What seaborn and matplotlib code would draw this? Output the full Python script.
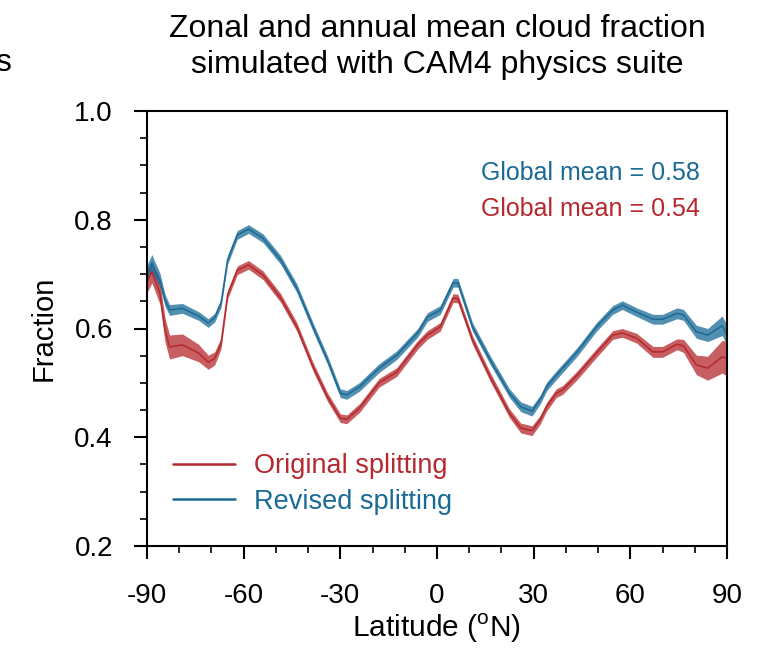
import numpy as np
import pandas as pd
import seaborn as sns
import matplotlib.pyplot as plt
from matplotlib.ticker import MultipleLocator

# Data
lat = [-90, -88.5, -86, -84.4, -83, -79, -74, -71, -69, -67, -65, -62, -58.5,
       -54, -48.5, -43.5, -38.5, -34, -30, -28, -24, -18, -12.5, -6, -3, 1,
       5, 6.5, 11, 16.5, 22.5, 26, 29.5, 32, 34, 37, 39, 43.5, 49.5, 54.5,
       57.5, 62, 67, 70, 74.5, 76.5, 80.5, 84, 88.5, 90]

revised_mean = [0.700, 0.720, 0.689, 0.652, 0.634, 0.637, 0.623, 0.610, 0.620,
                0.647, 0.726, 0.772, 0.783, 0.766, 0.726, 0.674, 0.603, 0.542,
                0.481, 0.478, 0.493, 0.527, 0.551, 0.592, 0.621, 0.634, 0.684,
                0.684, 0.603, 0.542, 0.481, 0.456, 0.448, 0.469, 0.493, 0.514,
                0.527, 0.557, 0.603, 0.634, 0.643, 0.630, 0.617, 0.617, 0.628,
                0.625, 0.594, 0.588, 0.605, 0.588]

revised_spread = [0.016, 0.016, 0.013, 0.011, 0.010, 0.009, 0.008, 0.008, 0.008,
                  0.008, 0.008, 0.008, 0.008, 0.008, 0.008, 0.008, 0.008, 0.008,
                  0.008, 0.008, 0.008, 0.008, 0.008, 0.008, 0.008, 0.008, 0.008,
                  0.008, 0.008, 0.008, 0.008, 0.009, 0.009, 0.008, 0.008, 0.008,
                  0.008, 0.008, 0.008, 0.008, 0.008, 0.008, 0.009, 0.009, 0.010,
                  0.010, 0.012, 0.012, 0.018, 0.018]

original_mean = [0.686, 0.704, 0.665, 0.597, 0.566, 0.570, 0.555, 0.538, 0.545,
                 0.573, 0.662, 0.707, 0.717, 0.698, 0.656, 0.603, 0.530, 0.474,
                 0.435, 0.433, 0.454, 0.500, 0.520, 0.570, 0.588, 0.603, 0.656,
                 0.655, 0.579, 0.511, 0.444, 0.417, 0.412, 0.432, 0.456, 0.481,
                 0.487, 0.514, 0.555, 0.588, 0.592, 0.582, 0.557, 0.557, 0.571,
                 0.568, 0.533, 0.527, 0.548, 0.545]

original_spread = [0.020, 0.020, 0.020, 0.022, 0.022, 0.020, 0.016, 0.013, 0.012,
                   0.010, 0.008, 0.008, 0.008, 0.008, 0.008, 0.008, 0.008, 0.008,
                   0.008, 0.008, 0.008, 0.008, 0.008, 0.008, 0.008, 0.008, 0.008,
                   0.008, 0.008, 0.008, 0.008, 0.009, 0.009, 0.008, 0.008, 0.008,
                   0.008, 0.008, 0.008, 0.008, 0.008, 0.009, 0.010, 0.010, 0.010,
                   0.012, 0.018, 0.022, 0.030, 0.032]

labels = ["Original splitting", "Revised splitting"]
global_means = [0.54, 0.58]

RED = "#b5282d"
BLUE = "#1a6a96"

sns.set_style("ticks")
plt.rcParams['font.family'] = ['Liberation Sans', 'DejaVu Sans']
plt.rcParams['mathtext.fontset'] = 'custom'
plt.rcParams['mathtext.rm'] = 'Liberation Sans'
plt.rcParams['axes.unicode_minus'] = False
plt.rcParams['text.color'] = 'black'
plt.rcParams['axes.labelcolor'] = 'black'

df = pd.DataFrame({
    "lat": lat * 2,
    "frac": original_mean + revised_mean,
    "spread": original_spread + revised_spread,
    "scheme": [labels[0]] * len(lat) + [labels[1]] * len(lat),
})

fig = plt.figure(figsize=(7.69, 6.49), dpi=100)
ax = fig.add_axes([147 / 769, 1 - 546 / 649, 580 / 769, 435 / 649])

palette = {labels[0]: RED, labels[1]: BLUE}
for name, grp in df.groupby("scheme"):
    ax.fill_between(grp["lat"], grp["frac"] - grp["spread"],
                    grp["frac"] + grp["spread"],
                    color=palette[name], alpha=0.75, lw=0)

sns.lineplot(data=df, x="lat", y="frac", hue="scheme", palette=palette,
             hue_order=labels, lw=1.1, ax=ax)

ax.set_xlim(-90, 90)
ax.set_ylim(0.2, 1.0)
ax.set_xticks(np.arange(-90, 91, 30))
ax.set_yticks([0.2, 0.4, 0.6, 0.8, 1.0])
ax.set_yticklabels(["0.2", "0.4", "0.6", "0.8", "1.0"])
ax.xaxis.set_minor_locator(MultipleLocator(10))
ax.yaxis.set_minor_locator(MultipleLocator(0.05))
ax.tick_params(which="major", direction="out", length=9.5, width=1.5,
               labelsize=20, colors="black")
ax.tick_params(axis="y", which="major", pad=15)
ax.tick_params(axis="x", which="major", pad=17)
ax.tick_params(which="minor", direction="out", length=5, width=1.2,
               colors="black")
for s in ax.spines.values():
    s.set_linewidth(1.5)
    s.set_color("black")

ax.set_xlabel(r"Latitude ($^{\mathrm{o}}$N)", fontsize=21.5, labelpad=2)
ax.set_ylabel("Fraction", fontsize=21, labelpad=12)
ax.set_title("Zonal and annual mean cloud fraction\nsimulated with CAM4 physics suite",
             fontsize=23, pad=27, linespacing=1.3)

# global mean annotations
ax.text(0.953, 0.857, f"Global mean = {global_means[1]:.2f}", color=BLUE,
        fontsize=18, ha="right", va="center", transform=ax.transAxes)
ax.text(0.953, 0.775, f"Global mean = {global_means[0]:.2f}", color=RED,
        fontsize=18, ha="right", va="center", transform=ax.transAxes)

leg = ax.legend(loc="lower left", bbox_to_anchor=(0.003, 0.016), frameon=False,
                fontsize=19.5, handlelength=2.3, handletextpad=0.7,
                labelspacing=0.35)
for txt, col in zip(leg.get_texts(), [RED, BLUE]):
    txt.set_color(col)
for line in leg.get_lines():
    line.set_linewidth(1.8)

# clipped fragment of the neighbouring panel title
fig.text(11 / 769, 1 - 63 / 649, "s", ha="right", va="center", fontsize=23)

fig.savefig("out.png", dpi=100)
